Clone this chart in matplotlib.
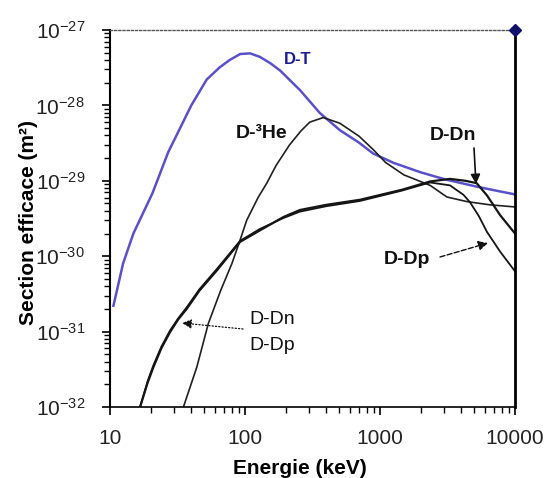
import numpy as np
import matplotlib
matplotlib.use("Agg")
import matplotlib.pyplot as plt
from matplotlib.ticker import LogLocator, NullFormatter, FixedLocator

plt.rcParams['font.family'] = ['Liberation Sans', 'DejaVu Sans']
plt.rcParams['mathtext.fontset'] = 'custom'
plt.rcParams['mathtext.rm'] = 'Liberation Sans'

# ---- data (energy in keV, cross section in m^2) ----
dt_E = [10.6, 12.5, 14.9, 20.6, 27, 32.5, 40, 52, 65, 77, 92, 109, 129, 155, 182,
        255, 359, 504, 700, 890, 1260, 1990, 3000, 5000, 7000, 10000]
dt_S = [2.2e-31, 8.0e-31, 2.0e-30, 6.8e-30, 2.4e-29, 4.7e-29, 1.0e-28, 2.2e-28, 3.2e-28,
        4.0e-28, 4.8e-28, 4.9e-28, 4.4e-28, 3.6e-28, 2.9e-28, 1.6e-28, 7.9e-29, 4.7e-29,
        3.2e-29, 2.3e-29, 1.73e-29, 1.3e-29, 1.05e-29, 8.5e-30, 7.5e-30, 6.6e-30]

dhe_E = [35, 44, 53.5, 66, 80, 92, 103, 125, 145, 170, 214, 260, 302, 380, 504, 700,
         890, 1100, 1500, 2350, 3130, 4400, 6530, 10000]
dhe_S = [1.0e-32, 3.4e-32, 1.28e-31, 3.5e-31, 8.0e-31, 1.64e-30, 3.0e-30, 6.0e-30, 9.3e-30,
         1.6e-29, 3.0e-29, 4.6e-29, 6.0e-29, 6.9e-29, 5.8e-29, 3.9e-29, 2.6e-29, 1.75e-29,
         1.2e-29, 8.7e-30, 6.1e-30, 5.3e-30, 4.8e-30, 4.5e-30]

ddn_E = [16.7, 19, 21, 24, 27.8, 32, 37, 46, 62, 92, 129, 192, 255, 400, 710, 1450,
         2350, 3300, 4300, 5200, 6200, 7760, 10000]
ddn_S = [1.0e-32, 2.1e-32, 3.4e-32, 6.0e-32, 9.8e-32, 1.45e-31, 2.0e-31, 3.5e-31, 6.5e-31,
         1.55e-30, 2.2e-30, 3.3e-30, 4.1e-30, 4.8e-30, 5.6e-30, 7.6e-30, 9.8e-30, 1.06e-29,
         1.0e-29, 9.3e-30, 6.4e-30, 3.5e-30, 2.0e-30]

ddp_E = [16.7, 19, 21, 24, 27.8, 32, 37, 46, 62, 92, 129, 192, 255, 400, 710, 1450,
         2350, 3300, 4160, 4640, 5400, 6200, 7760, 10000]
ddp_S = [1.0e-32, 2.2e-32, 3.6e-32, 6.3e-32, 1.03e-31, 1.5e-31, 2.1e-31, 3.65e-31, 6.8e-31,
         1.6e-30, 2.3e-30, 3.2e-30, 3.9e-30, 4.6e-30, 5.4e-30, 7.4e-30, 9.5e-30, 8.7e-30,
         6.5e-30, 5.2e-30, 3.4e-30, 2.1e-30, 1.15e-30, 6.3e-31]

x_ticks = [10, 100, 1000, 10000]
x_tick_labels = ['10', '100', '1000', '10000']
y_ticks = [1e-32, 1e-31, 1e-30, 1e-29, 1e-28, 1e-27]
y_tick_labels = [r'$\mathregular{10^{-32}}$', r'$\mathregular{10^{-31}}$',
                 r'$\mathregular{10^{-30}}$', r'$\mathregular{10^{-29}}$',
                 r'$\mathregular{10^{-28}}$', r'$\mathregular{10^{-27}}$']

# ---- figure ----
fig = plt.figure(figsize=(5.48, 4.78), dpi=100)
ax = fig.add_axes([110/548, (478-407)/478, 405/548, 377/478])
ax.set_xscale('log')
ax.set_yscale('log')
ax.set_xlim(10, 10000)
ax.set_ylim(1e-32, 1e-27)

ax.plot(dt_E, dt_S, color='#5a50c8', lw=1.8, solid_joinstyle='round')
ax.plot(dhe_E, dhe_S, color='#202020', lw=1.2)
ax.plot(ddn_E, ddn_S, color='#151515', lw=1.6)
ax.plot(ddp_E, ddp_S, color='#151515', lw=1.3)

# marker at top-right corner
ax.plot([10000], [1e-27], marker='D', color='#10106a', ms=6, clip_on=False, zorder=5)

# spines
ax.spines['top'].set_linestyle((0, (1.5, 1.5)))
ax.spines['top'].set_color('#555555')
ax.spines['top'].set_linewidth(1.0)
ax.spines['right'].set_linewidth(2.0)
ax.spines['left'].set_linewidth(1.5)
ax.spines['bottom'].set_linewidth(1.2)

# ticks
ax.xaxis.set_major_locator(FixedLocator(x_ticks))
ax.set_xticklabels(x_tick_labels)
ax.yaxis.set_major_locator(FixedLocator(y_ticks))
ax.set_yticklabels(y_tick_labels)
ax.xaxis.set_minor_locator(LogLocator(base=10, subs=np.arange(2, 10), numticks=100))
ax.yaxis.set_minor_locator(LogLocator(base=10, subs=np.arange(2, 10), numticks=100))
ax.xaxis.set_minor_formatter(NullFormatter())
ax.yaxis.set_minor_formatter(NullFormatter())
ax.tick_params(which='major', direction='out', length=6, width=1.2, labelsize=15,
               labelcolor='#222222')
ax.tick_params(which='minor', direction='out', length=4, width=1.0)
ax.tick_params(axis='x', which='major', pad=10)
ax.tick_params(axis='y', which='major', pad=12)
ax.tick_params(top=False, right=False, which='both')

ax.set_xlabel('Energie (keV)', fontsize=15, fontweight='bold')
ax.xaxis.set_label_coords(0.47, -0.137)
ax.set_ylabel('Section efficace (m²)', fontsize=15, fontweight='bold')
ax.yaxis.set_label_coords(-0.178, 0.49)

# annotations (axes fraction coordinates)
def fx(px):
    return (px - 110) / 405
def fy(py):
    return (407 - py) / 377

ax.text(fx(298), fy(60), 'D-T', transform=ax.transAxes, color='#1c1c90',
        fontsize=12, fontweight='bold', ha='center', va='center')
ax.text(fx(262), fy(134), 'D-³He', transform=ax.transAxes, color='#111111',
        fontsize=14, fontweight='bold', ha='center', va='center')
ax.text(fx(453), fy(135), 'D-Dn', transform=ax.transAxes, color='#111111',
        fontsize=14, fontweight='bold', ha='center', va='center')
ax.text(fx(407), fy(260), 'D-Dp', transform=ax.transAxes, color='#111111',
        fontsize=14, fontweight='bold', ha='center', va='center')
ax.text(fx(272), fy(320), 'D-Dn', transform=ax.transAxes, color='#111111',
        fontsize=14, ha='center', va='center')
ax.text(fx(272), fy(345), 'D-Dp', transform=ax.transAxes, color='#111111',
        fontsize=14, ha='center', va='center')

ax.annotate('', xy=(fx(476), fy(184)), xytext=(fx(474), fy(148)),
            xycoords='axes fraction', textcoords='axes fraction',
            arrowprops=dict(arrowstyle='-|>', color='#111111', lw=1.2,
                            mutation_scale=14, shrinkA=0, shrinkB=0))
ax.annotate('', xy=(fx(488), fy(243)), xytext=(fx(440), fy(257)),
            xycoords='axes fraction', textcoords='axes fraction',
            arrowprops=dict(arrowstyle='-|>', color='#111111', lw=1.0, ls='--',
                            mutation_scale=14, shrinkA=0, shrinkB=0))
ax.annotate('', xy=(fx(182), fy(323)), xytext=(fx(243), fy(329)),
            xycoords='axes fraction', textcoords='axes fraction',
            arrowprops=dict(arrowstyle='-|>', color='#111111', lw=0.9, ls=':',
                            mutation_scale=14, shrinkA=0, shrinkB=0))

fig.savefig('out.png', dpi=100)
